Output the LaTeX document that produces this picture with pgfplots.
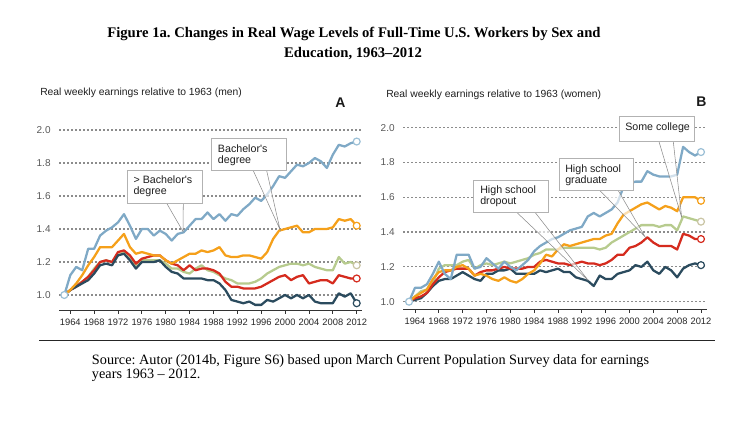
\documentclass[border=0pt]{standalone}
\usepackage{pgfplots}
\usepackage{pgfplotstable}
\pgfplotsset{compat=1.18}
\usepackage{fontspec}
\setmainfont{Liberation Serif}
\newfontfamily\cf{Liberation Sans}
\frenchspacing

\definecolor{cBlue}{HTML}{7FA9C6}
\definecolor{cBlueL}{HTML}{9CC0D6}
\definecolor{cOrange}{HTML}{F5A01A}
\definecolor{cGreen}{HTML}{B7CB8E}
\definecolor{cGreenL}{HTML}{C9C4A3}
\definecolor{cRed}{HTML}{D52B1E}
\definecolor{cNavy}{HTML}{2B4B5E}

\pgfplotstableread{
year bap ba sc hsg hsd
1963 1.00 1.00 1.00 1.00 1.00
1964 1.12 1.03 1.03 1.03 1.03
1965 1.17 1.07 1.06 1.05 1.05
1966 1.15 1.12 1.08 1.08 1.07
1967 1.28 1.18 1.11 1.11 1.09
1968 1.28 1.23 1.16 1.15 1.13
1969 1.36 1.29 1.20 1.20 1.18
1970 1.39 1.29 1.21 1.21 1.19
1971 1.41 1.29 1.20 1.20 1.18
1972 1.44 1.33 1.24 1.26 1.24
1973 1.49 1.37 1.26 1.27 1.25
1974 1.42 1.29 1.22 1.24 1.21
1975 1.34 1.25 1.18 1.19 1.16
1976 1.40 1.26 1.21 1.22 1.20
1977 1.40 1.25 1.21 1.23 1.20
1978 1.36 1.24 1.21 1.24 1.20
1979 1.39 1.24 1.21 1.24 1.21
1980 1.37 1.21 1.19 1.21 1.17
1981 1.33 1.19 1.16 1.19 1.14
1982 1.37 1.21 1.16 1.18 1.13
1983 1.38 1.23 1.14 1.15 1.10
1984 1.42 1.25 1.13 1.18 1.10
1985 1.46 1.25 1.16 1.15 1.10
1986 1.46 1.27 1.18 1.16 1.10
1987 1.50 1.26 1.15 1.16 1.09
1988 1.46 1.27 1.14 1.15 1.09
1989 1.49 1.29 1.12 1.13 1.07
1990 1.45 1.24 1.10 1.08 1.03
1991 1.49 1.23 1.09 1.05 0.97
1992 1.48 1.23 1.07 1.05 0.96
1993 1.52 1.24 1.07 1.04 0.95
1994 1.55 1.24 1.07 1.04 0.96
1995 1.59 1.23 1.08 1.04 0.94
1996 1.57 1.22 1.10 1.05 0.94
1997 1.61 1.26 1.13 1.07 0.97
1998 1.66 1.34 1.15 1.09 0.96
1999 1.72 1.39 1.17 1.11 0.98
2000 1.71 1.40 1.18 1.12 1.00
2001 1.75 1.41 1.19 1.09 0.98
2002 1.79 1.42 1.19 1.11 1.00
2003 1.78 1.38 1.18 1.12 0.98
2004 1.80 1.38 1.19 1.07 1.00
2005 1.83 1.40 1.17 1.08 0.96
2006 1.81 1.40 1.16 1.09 0.95
2007 1.77 1.40 1.15 1.09 0.95
2008 1.85 1.41 1.15 1.07 0.95
2009 1.91 1.46 1.23 1.12 1.01
2010 1.90 1.45 1.19 1.11 0.99
2011 1.92 1.46 1.20 1.10 1.01
2012 1.93 1.42 1.18 1.10 0.95
}\men

\pgfplotstableread{
year bap ba sc hsg hsd
1963 1.00 1.00 1.00 1.00 1.00
1964 1.08 1.03 1.03 1.02 1.01
1965 1.08 1.05 1.06 1.03 1.02
1966 1.10 1.07 1.07 1.05 1.05
1967 1.16 1.13 1.11 1.10 1.09
1968 1.23 1.17 1.19 1.14 1.12
1969 1.16 1.18 1.21 1.17 1.13
1970 1.13 1.18 1.21 1.18 1.13
1971 1.27 1.20 1.21 1.19 1.15
1972 1.27 1.21 1.23 1.19 1.17
1973 1.27 1.19 1.24 1.19 1.15
1974 1.19 1.15 1.19 1.15 1.13
1975 1.20 1.16 1.21 1.17 1.12
1976 1.25 1.15 1.22 1.18 1.16
1977 1.22 1.13 1.21 1.18 1.16
1978 1.19 1.12 1.22 1.19 1.18
1979 1.23 1.14 1.23 1.20 1.18
1980 1.20 1.12 1.22 1.19 1.19
1981 1.18 1.11 1.23 1.19 1.16
1982 1.21 1.13 1.24 1.19 1.16
1983 1.24 1.16 1.25 1.20 1.16
1984 1.29 1.18 1.27 1.20 1.16
1985 1.32 1.22 1.28 1.23 1.18
1986 1.34 1.27 1.30 1.24 1.17
1987 1.36 1.26 1.30 1.23 1.18
1988 1.37 1.30 1.30 1.22 1.19
1989 1.39 1.33 1.31 1.22 1.17
1990 1.41 1.32 1.31 1.21 1.17
1991 1.42 1.33 1.31 1.22 1.14
1992 1.43 1.34 1.31 1.23 1.13
1993 1.49 1.35 1.31 1.22 1.12
1994 1.51 1.36 1.31 1.22 1.09
1995 1.49 1.36 1.30 1.21 1.15
1996 1.51 1.38 1.31 1.22 1.13
1997 1.53 1.39 1.34 1.24 1.13
1998 1.57 1.45 1.36 1.27 1.16
1999 1.66 1.50 1.38 1.27 1.17
2000 1.68 1.52 1.40 1.31 1.18
2001 1.69 1.54 1.42 1.32 1.21
2002 1.69 1.56 1.44 1.34 1.20
2003 1.75 1.57 1.44 1.37 1.23
2004 1.73 1.55 1.44 1.34 1.18
2005 1.72 1.53 1.43 1.32 1.16
2006 1.72 1.55 1.44 1.32 1.20
2007 1.72 1.54 1.44 1.32 1.18
2008 1.73 1.52 1.41 1.30 1.14
2009 1.89 1.60 1.49 1.39 1.19
2010 1.86 1.60 1.48 1.38 1.21
2011 1.84 1.60 1.47 1.36 1.22
2012 1.86 1.58 1.46 1.36 1.21
}\women

\pgfplotsset{
  panel/.style={
    scale only axis,
    clip=false,
    axis x line=bottom, axis y line=left,
    x axis line style={-, draw=black!80, line width=0.6pt},
    y axis line style={draw=none},
    ytick style={draw=none},
    xtick={1964,1968,...,2012},
    ytick={1,1.2,1.4,1.6,1.8,2},
    ymajorgrids,
    grid style={dash pattern=on 0.9pt off 2.1pt, line width=0.9pt, color=black!45},
    tick align=outside,
    xtick style={draw=black!80, line width=0.6pt},
    major tick length=3pt,
    /pgf/number format/assume math mode=true,
    xticklabel style={font=\cf\fontsize{7}{8}\selectfont, text=black!85,
      /pgf/number format/.cd, 1000 sep={}},
    yticklabel style={font=\cf\fontsize{7.5}{8}\selectfont, text=black!65,
      /pgf/number format/.cd, fixed, fixed zerofill, precision=1},
  },
  ser/.style={line width=1.7pt, line join=round, #1, mark=none},
  endm/.style={only marks, mark=*, mark size=2.6pt, mark options={fill=white, draw=#1, line width=0.9pt}},
}

\begin{document}
\begin{tikzpicture}
\useasboundingbox (0,0) rectangle (567pt,318pt);

% Panel A (men)
\begin{axis}[panel, at={(44.475pt,85.5pt)}, anchor=south west,
  width=226.8pt, height=141.19pt,
  xmin=1962.16, xmax=2012.84, ymin=0.909, ymax=2.05]
  \addplot[ser=cGreen] table[x=year,y=sc] {\men};
  \addplot[ser=cRed] table[x=year,y=hsg] {\men};
  \addplot[ser=cNavy] table[x=year,y=hsd] {\men};
  \addplot[ser=cOrange] table[x=year,y=ba] {\men};
  \addplot[ser=cBlue] table[x=year,y=bap] {\men};
  \addplot[endm=cBlueL] coordinates {(1963,1.00)};
  \addplot[endm=cBlueL] coordinates {(2012,1.93)};
  \addplot[endm=cOrange] coordinates {(2012,1.42)};
  \addplot[endm=cGreenL] coordinates {(2012,1.18)};
  \addplot[endm=cRed] coordinates {(2012,1.10)};
  \addplot[endm=cNavy] coordinates {(2012,0.95)};
\end{axis}

% Panel B (women)
\begin{axis}[panel, at={(302.475pt,86.25pt)}, anchor=south west,
  width=227.55pt, height=142.5pt,
  xmin=1962.04, xmax=2012.96, ymin=0.958, ymax=2.05]
  \addplot[ser=cGreen] table[x=year,y=sc] {\women};
  \addplot[ser=cNavy] table[x=year,y=hsd] {\women};
  \addplot[ser=cRed] table[x=year,y=hsg] {\women};
  \addplot[ser=cOrange] table[x=year,y=ba] {\women};
  \addplot[ser=cBlue] table[x=year,y=bap] {\women};
  \addplot[endm=cBlueL] coordinates {(1963,1.00)};
  \addplot[endm=cBlueL] coordinates {(2012,1.86)};
  \addplot[endm=cOrange] coordinates {(2012,1.58)};
  \addplot[endm=cGreenL] coordinates {(2012,1.46)};
  \addplot[endm=cRed] coordinates {(2012,1.36)};
  \addplot[endm=cNavy] coordinates {(2012,1.21)};
\end{axis}

\begin{scope}[x=0.75pt,y=-0.75pt,yshift=318pt]
  % title
  \node[anchor=base, font=\bfseries\fontsize{11}{13}\selectfont, inner sep=0] at (354,37.3)
    {Figure 1a. Changes in Real Wage Levels of Full-Time U.S. Workers by Sex and};
  \node[anchor=base, font=\bfseries\fontsize{11}{13}\selectfont, inner sep=0] at (353,57.3)
    {Education, 1963--2012};
  % panel headings
  \node[anchor=base west, inner sep=0, font=\cf\fontsize{7.75}{9}\selectfont, text=black!88]
    at (40,95.7) {Real weekly earnings relative to 1963 (men)};
  \node[anchor=base west, inner sep=0, font=\cf\fontsize{7.75}{9}\selectfont, text=black!88]
    at (386,97.3) {Real weekly earnings relative to 1963 (women)};
  \node[anchor=base, inner sep=0, font=\cf\bfseries\fontsize{10.5}{12}\selectfont, text=black!90]
    at (340.5,107.3) {A};
  \node[anchor=base, inner sep=0, font=\cf\bfseries\fontsize{10.5}{12}\selectfont, text=black!90]
    at (701.3,106.7) {B};

  \tikzset{pt/.style={fill=white, fill opacity=0.65, draw=black!45, line width=0.4pt},
           bx/.style={fill=white, draw=black!30, line width=0.5pt},
           ct/.style={anchor=base west, inner sep=0, font=\cf\fontsize{8}{9}\selectfont, text=black!88}}
  % callout > Bachelor's
  \filldraw[pt] (166.7,203.3) -- (183,231.5) -- (183.3,203.3);
  \filldraw[bx] (127.3,170) rectangle (202.7,203.3);
  \node[ct] at (133.3,184) {> Bachelor's};
  \node[ct] at (133.3,194.8) {degree};
  % callout Bachelor's
  \filldraw[pt] (253.3,170.7) -- (280,229.5) -- (266.7,170.7);
  \filldraw[bx] (211,138.3) rectangle (286.7,170.7);
  \node[ct] at (217.7,152.3) {Bachelor's};
  \node[ct] at (217.7,163.1) {degree};
  % callout HS dropout
  \filldraw[pt] (516.7,212.3) -- (588.3,280.5) -- (535,212.3);
  \filldraw[bx] (473.3,180) rectangle (548.3,212.3);
  \node[ct] at (480,193.3) {High school};
  \node[ct] at (480,204.1) {dropout};
  % callout HS graduate
  \filldraw[pt] (600,190.7) -- (645,236.7) -- (618.3,190.7);
  \filldraw[bx] (559,158.3) rectangle (633.3,190.7);
  \node[ct] at (565,172.3) {High school};
  \node[ct] at (565,183.1) {graduate};
  % callout Some college
  \filldraw[pt] (659,141.7) -- (681.7,217.5) -- (673.3,141.7);
  \filldraw[bx] (619.3,116) rectangle (694.3,141.7);
  \node[ct] at (625,131) {Some college};

  % rule
  \draw[black!85, line width=0.75pt] (39.3,340.7) -- (715,340.7);
  % source
  \node[anchor=base west, inner sep=0, font=\fontsize{10.7}{13}\selectfont] at (91.7,364.3)
    {Source: Autor (2014b, Figure S6) based upon March Current Population Survey data for earnings};
  \node[anchor=base west, inner sep=0, font=\fontsize{10.7}{13}\selectfont] at (91.7,378.7)
    {years 1963 -- 2012.};
\end{scope}
\end{tikzpicture}
\end{document}
